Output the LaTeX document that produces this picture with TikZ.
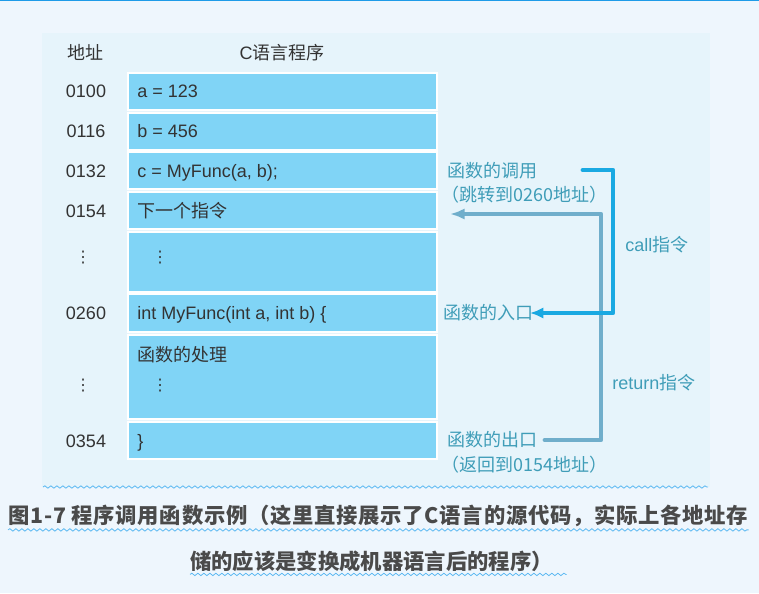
\documentclass[tikz,border=0pt]{standalone}
\usepackage{fontspec}
\setmainfont{Liberation Sans}
\newfontfamily\cjk{Noto Sans CJK SC}
\newfontfamily\dotsfont{DejaVu Sans}
\usetikzlibrary{arrows.meta,decorations.pathmorphing}
\definecolor{pagebg}{HTML}{EEF6FD}
\definecolor{panelbg}{HTML}{E6F4FB}
\definecolor{cellblue}{HTML}{80D4F6}
\definecolor{topline}{HTML}{1E9BE8}
\definecolor{darktext}{HTML}{333333}
\definecolor{notetext}{HTML}{3F9DB8}
\definecolor{callblue}{HTML}{1AA9E2}
\definecolor{retblue}{HTML}{70AECB}
\definecolor{captext}{HTML}{4A4A4A}
\definecolor{wavyblue}{HTML}{5CB9F2}

\begin{document}
\begin{tikzpicture}[x=0.75pt,y=-0.75pt,
  txt/.style={inner sep=0pt, anchor=west, text height=10pt, text depth=0pt,
    font=\fontsize{13.5}{16}\selectfont, text=darktext},
  addr/.style={txt, anchor=center},
  vdot/.style={addr, font=\fontsize{12}{14}\selectfont\dotsfont},
  note/.style={txt, text=notetext},
  cell/.style={fill=cellblue, draw=white, line width=1pt},
  caption/.style={inner sep=0pt, font=\fontsize{16}{20}\selectfont\cjk\bfseries, text=captext},
  squiggle/.style={wavyblue, line width=0.6pt, decorate,
    decoration={snake, segment length=4.5pt, amplitude=0.9pt}},
  callarrow/.style={callblue, line width=3.6pt, line cap=round, line join=round,
    -{Latex[length=10pt,width=8.5pt]}},
  retarrow/.style={retblue, line width=3.6pt, line cap=round, line join=round,
    -{Latex[length=11pt,width=8.5pt]}}
]

% Page and panel
\fill[pagebg] (0,0) rectangle (759,593);
\useasboundingbox (0,0) rectangle (759,593);
\fill[panelbg] (42,33) rectangle (710,487);
\draw[topline, line width=1pt] (0,0.5) -- (759,0.5);
\draw[squiggle] (43,487) -- (708,487);

% Headers
\node[addr] (hAddr) at (85,53) {\cjk 地址};
\node[addr] (hProg) at (282,53) {C{\cjk 语言程序}};

% Memory cells
\fill[cell] (128,73) rectangle (437,110);
\fill[cell] (128,113) rectangle (437,150);
\fill[cell] (128,152) rectangle (437,189);
\fill[cell] (128,192) rectangle (437,229);
\fill[cell] (128,232) rectangle (437,292);
\fill[cell] (128,294) rectangle (437,332);
\fill[cell] (128,335) rectangle (437,419);
\fill[cell] (128,422) rectangle (437,459);

% Addresses
\node[addr] (a100) at (86,91) {0100};
\node[addr] (a116) at (86,131) {0116};
\node[addr] (a132) at (86,171) {0132};
\node[addr] (a154) at (86,211) {0154};
\node[vdot] (aDots1) at (83,256) {⋮};
\node[addr] (a260) at (86,313) {0260};
\node[vdot] (aDots2) at (83,384) {⋮};
\node[addr] (a354) at (86,441) {0354};

% Program lines
\node[txt] (lineA) at (137,91) {a = 123};
\node[txt] (lineB) at (137,131) {b = 456};
\node[txt] (lineC) at (137,171) {c = MyFunc(a, b);};
\node[txt] (next) at (137,211) {\cjk 下一个指令};
\node[vdot] (dots1) at (160,256) {⋮};
\node[txt] (funcHead) at (137,313) {int MyFunc(int a, int b) \{};
\node[txt] (body) at (137,355) {\cjk 函数的处理};
\node[vdot] (dots2) at (160,384) {⋮};
\node[txt] (close) at (137,441) {\}};

% Notes
\node[note] (callNote) at (447,171) {\cjk 函数的调用};
\node[note] (callNote2) at (441,195) {\cjk （跳转到0260地址）};
\node[note] (entry) at (443,313) {\cjk 函数的入口};
\node[note] (exit) at (447,440) {\cjk 函数的出口};
\node[note] (exit2) at (441,465) {\cjk （返回到0154地址）};
\node[note] (callLbl) at (625,245) {call{\cjk 指令}};
\node[note] (retLbl) at (612,383) {return{\cjk 指令}};

% Return arrow
\coordinate (retFrom) at (545,440);
\coordinate (retTo) at (450,214);
\coordinate (retX) at (601,0);
\draw[retarrow] (retFrom) -- (retFrom -| retX) -- (retTo -| retX) -- (retTo);

% Call arrow
\coordinate (callFrom) at (583,170);
\coordinate (callTo) at (530,313);
\coordinate (callX) at (613,0);
\draw[callarrow] (callFrom) -- (callFrom -| callX) -- (callTo -| callX) -- (callTo);

% Caption
\node[caption, anchor=west] (cap1) at (8,516)
  {\addfontfeature{LetterSpace=3.5}图1-7 程序调用函数示例（这里直接展示了C语言的源代码，实际上各地址存};
\node[caption, anchor=west] (cap2) at (190,561)
  {储的应该是变换成机器语言后的程序）};
\draw[squiggle] ([yshift=-2pt]cap1.south west) -- ([yshift=-2pt]cap1.south east);
\draw[squiggle] ([yshift=-2pt]cap2.south west) -- ([yshift=-2pt,xshift=10pt]cap2.south east);

\end{tikzpicture}
\end{document}
